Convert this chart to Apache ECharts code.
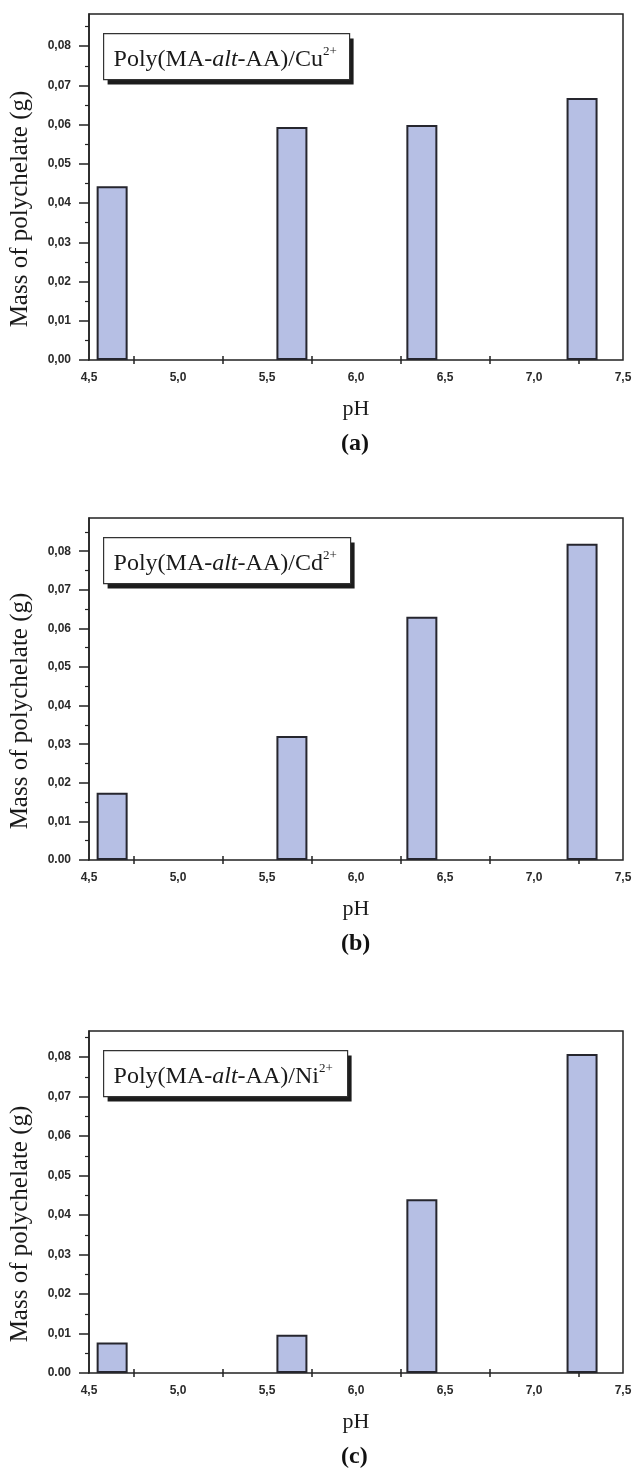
<!DOCTYPE html>
<html>
<head>
<meta charset="utf-8">
<script src="https://cdn.jsdelivr.net/npm/echarts@6/dist/echarts.min.js"></script>
<style>
html,body{margin:0;padding:0;background:#fff;}
#main{width:636px;height:1477px;}
</style>
</head>
<body>
<div id="main"></div>
<script>
// ---- data ----
const pHValues = [4.63, 5.64, 6.37, 7.27];
const massCu = [0.0443, 0.0594, 0.0599, 0.0668];
const massCd = [0.0174, 0.0321, 0.0630, 0.0819];
const massNi = [0.0077, 0.0097, 0.0440, 0.0808];
const yMaxes = [0.0882, 0.0886, 0.0866];
const xTickLabels = ['4,5', '5,0', '5,5', '6,0', '6,5', '7,0', '7,5'];
const yTickLabelsA = ['0,00', '0,01', '0,02', '0,03', '0,04', '0,05', '0,06', '0,07', '0,08'];
const yTickLabelsB = ['0.00', '0,01', '0,02', '0,03', '0,04', '0,05', '0,06', '0,07', '0,08'];
const yTickLabelsC = ['0.00', '0,01', '0,02', '0,03', '0,04', '0,05', '0,06', '0,07', '0,08'];
const metals = ['Cu', 'Cd', 'Ni'];
const panelLetters = ['(a)', '(b)', '(c)'];
const yName = 'Mass of polychelate (g)';
const xName = 'pH';

const seriesData = [massCu, massCd, massNi];
const yTickLabels = [yTickLabelsA, yTickLabelsB, yTickLabelsC];

// ---- layout ----
const gridTops = [14, 518, 1031];
const gridHeights = [346, 342, 342];
const legendWidths = [246, 247, 244];
const gridLeft = 88, gridWidth = 535;
const serif = '"Liberation Serif", "DejaVu Serif", serif';
const sans = '"Liberation Sans", Arial, sans-serif';

const grids = [], xAxes = [], yAxes = [], series = [], graphics = [];
for (let i = 0; i < 3; i++) {
  grids.push({
    left: gridLeft, top: gridTops[i], width: gridWidth, height: gridHeights[i],
    show: true, borderColor: '#222', borderWidth: 1.5, backgroundColor: 'transparent'
  });
  xAxes.push({
    type: 'value', gridIndex: i, min: 4.5, max: 7.5, interval: 0.5,
    position: 'bottom', offset: -4,
    axisLine: { show: false },
    axisTick: { show: false },
    minorTick: { show: true, splitNumber: 2, length: 8, lineStyle: { color: '#222', width: 1.5 } },
    splitLine: { show: false },
    axisLabel: {
      margin: 16, fontFamily: sans, fontSize: 12, fontWeight: 'bold', color: '#2a2a2a',
      formatter: v => xTickLabels[Math.round((v - 4.5) / 0.5)] || ''
    },
    name: xName, nameLocation: 'middle', nameGap: 42,
    nameTextStyle: { fontFamily: serif, fontSize: 22, color: '#1a1a1a' }
  });
  const labels = yTickLabels[i];
  yAxes.push({
    type: 'value', gridIndex: i, min: 0, max: yMaxes[i], interval: 0.01,
    axisLine: { show: true, lineStyle: { color: '#222', width: 1.5 } },
    axisTick: { show: true, inside: false, length: 10, lineStyle: { color: '#222', width: 1.5 },
      customValues: labels.map((_, k) => k * 0.01) },
    minorTick: { show: true, splitNumber: 2, length: 4, lineStyle: { color: '#222', width: 1.2 } },
    splitLine: { show: false },
    axisLabel: {
      margin: 18, fontFamily: sans, fontSize: 12, fontWeight: 'bold', color: '#2a2a2a',
      customValues: labels.map((_, k) => k * 0.01),
      formatter: v => {
        const k = Math.round(v / 0.01);
        return Math.abs(v - k * 0.01) < 1e-6 ? (labels[k] || '') : '';
      }
    },
    name: yName, nameLocation: 'middle', nameGap: 56, nameRotate: 90,
    nameTextStyle: { fontFamily: serif, fontSize: 25, color: '#1a1a1a', padding: [0, 0, 0, -44] }
  });
  series.push({
    type: 'bar', xAxisIndex: i, yAxisIndex: i, barWidth: 31,
    data: pHValues.map((p, j) => [p, seriesData[i][j]]),
    itemStyle: { color: '#b6bfe4', borderColor: '#26262e', borderWidth: 2 },
    silent: true
  });
  graphics.push({
    type: 'group', left: 103, top: gridTops[i] + 19, z: 100,
    children: [
      { type: 'rect', shape: { x: 4, y: 5, width: legendWidths[i], height: 46 },
        style: { fill: '#1c1c1c' } },
      { type: 'rect', shape: { x: 0, y: 0, width: legendWidths[i], height: 46 },
        style: { fill: '#fff', stroke: '#333', lineWidth: 1.2 } },
      { type: 'text', x: 10, y: 26,
        style: {
          text: '{n|Poly(MA-}{i|alt}{n|-AA)/' + metals[i] + '}{s|2+}',
          verticalAlign: 'middle',
          rich: {
            n: { fontFamily: serif, fontSize: 24, fontWeight: 'normal', fill: '#1a1a1a', lineHeight: 30 },
            i: { fontFamily: serif, fontSize: 24, fontWeight: 'normal', fontStyle: 'italic', fill: '#1a1a1a', lineHeight: 30 },
            s: { fontFamily: serif, fontSize: 13, fontWeight: 'normal', fill: '#1a1a1a', verticalAlign: 'top', lineHeight: 30, padding: [0, 0, 13, 0] }
          }
        } }
    ]
  });
  graphics.push({
    type: 'text', left: 355 - 14, top: gridTops[i] + gridHeights[i] + 72,
    style: { text: panelLetters[i], font: 'bold 24px ' + serif, fill: '#111' }
  });
}

const chart = echarts.init(document.getElementById('main'), null, { renderer: 'canvas' });
chart.setOption({
  animation: false,
  backgroundColor: '#fff',
  grid: grids,
  xAxis: xAxes,
  yAxis: yAxes,
  series: series,
  graphic: graphics
});
</script>
</body>
</html>
